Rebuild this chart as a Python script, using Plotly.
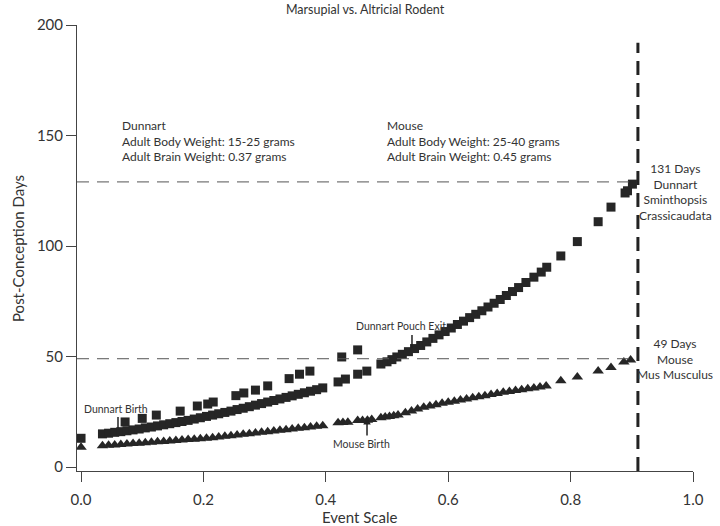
import plotly.graph_objects as go

# ---------------- data ----------------
dunnart_event = [0.0,
    0.035, 0.045, 0.055, 0.065, 0.075, 0.085, 0.095, 0.105, 0.115, 0.125,
    0.135, 0.145, 0.155, 0.165, 0.175, 0.185, 0.195, 0.205, 0.215, 0.225,
    0.235, 0.245, 0.255, 0.265, 0.275, 0.285, 0.295, 0.305, 0.315, 0.325,
    0.335, 0.345, 0.355, 0.365, 0.375, 0.385, 0.395,
    0.42, 0.432, 0.452, 0.467, 0.49, 0.5, 0.508, 0.516, 0.525, 0.535,
    0.545, 0.555, 0.565, 0.575, 0.585, 0.595, 0.605, 0.615, 0.625, 0.635,
    0.645, 0.655, 0.665, 0.675, 0.685, 0.695, 0.705, 0.715, 0.727, 0.74,
    0.752, 0.761, 0.784, 0.811, 0.845, 0.866, 0.889, 0.893, 0.901,
    0.072, 0.1, 0.123, 0.162, 0.19, 0.207, 0.216, 0.253, 0.266, 0.285,
    0.305, 0.34, 0.357, 0.374, 0.426, 0.452]
dunnart_days = [13.0,
    15.0, 15.3, 15.7, 16.0, 16.4, 16.8, 17.2, 17.7, 18.1, 18.6,
    19.1, 19.6, 20.1, 20.6, 21.1, 21.7, 22.3, 22.9, 23.5, 24.1,
    24.7, 25.3, 26.0, 26.6, 27.3, 28.0, 28.7, 29.4, 30.1, 30.8,
    31.5, 32.2, 32.9, 33.6, 34.3, 35.0, 35.8,
    38.5, 39.8, 42.0, 43.4, 46.6, 47.6, 48.6, 49.8, 51.0, 52.2,
    53.6, 55.0, 56.6, 58.2, 59.8, 61.3, 62.9, 64.5, 66.0, 67.6,
    69.1, 70.7, 72.4, 74.1, 75.8, 77.6, 79.4, 81.2, 83.5, 85.9,
    88.2, 90.4, 95.5, 102.0, 111.0, 117.6, 124.0, 125.0, 128.0,
    20.4, 22.0, 23.5, 25.3, 27.6, 28.5, 29.4, 32.3, 33.5, 34.8,
    36.7, 40.0, 42.0, 43.4, 49.8, 53.0]

mouse_event = [0.0,
    0.035, 0.045, 0.055, 0.065, 0.075, 0.085, 0.095, 0.105, 0.115, 0.125,
    0.135, 0.145, 0.155, 0.165, 0.175, 0.185, 0.195, 0.205, 0.215, 0.225,
    0.235, 0.245, 0.255, 0.265, 0.275, 0.285, 0.295, 0.305, 0.315, 0.325,
    0.335, 0.345, 0.355, 0.365, 0.375, 0.385, 0.395,
    0.42, 0.428, 0.436, 0.452, 0.46, 0.468, 0.475, 0.49, 0.497, 0.504,
    0.511, 0.518, 0.53, 0.54, 0.55, 0.56, 0.57, 0.58, 0.59, 0.6,
    0.61, 0.62, 0.63, 0.64, 0.65, 0.66, 0.67, 0.68, 0.69, 0.7,
    0.71, 0.72, 0.73, 0.74, 0.75, 0.76, 0.784, 0.811, 0.845, 0.866,
    0.887, 0.898]
mouse_days = [9.0,
    9.6, 9.8, 10.0, 10.2, 10.4, 10.6, 10.8, 11.0, 11.2, 11.4,
    11.6, 11.8, 12.0, 12.2, 12.4, 12.6, 12.8, 13.0, 13.3, 13.6,
    13.9, 14.2, 14.5, 14.8, 15.1, 15.4, 15.7, 16.0, 16.3, 16.6,
    16.9, 17.2, 17.5, 17.8, 18.1, 18.4, 18.7,
    20.0, 20.1, 20.3, 21.0, 21.1, 21.2, 21.5, 22.3, 22.6, 22.9,
    23.2, 23.5, 24.6, 25.4, 26.2, 27.0, 27.6, 28.2, 28.8, 29.3,
    29.8, 30.3, 30.8, 31.3, 31.8, 32.3, 32.8, 33.3, 33.8, 34.2,
    34.6, 35.0, 35.4, 35.8, 36.2, 36.7, 39.0, 40.7, 43.4, 45.0,
    47.5, 48.4]

x_ticks = [0.0, 0.2, 0.4, 0.6, 0.8, 1.0]
y_ticks = [0, 50, 100, 150, 200]

max_brain_event = 0.91
dunnart_end_days = 129
mouse_end_days = 49

FONT = "Lato"
TXT = "#333333"
MARK = "#262626"

fig = go.Figure()
fig.add_trace(go.Scatter(x=dunnart_event, y=dunnart_days, mode="markers",
                         marker=dict(symbol="square", size=9, color=MARK),
                         name="Dunnart", hoverinfo="skip"))
fig.add_trace(go.Scatter(x=mouse_event, y=mouse_days, mode="markers",
                         marker=dict(symbol="triangle-up", size=10, color=MARK),
                         name="Mouse", hoverinfo="skip"))

# reference lines
for yv in (dunnart_end_days, mouse_end_days):
    fig.add_shape(type="line", xref="x", yref="y", x0=-0.0066, x1=max_brain_event,
                  y0=yv, y1=yv, line=dict(color="#555555", width=1, dash="12px,8px"))
fig.add_shape(type="line", xref="x", yref="y", x0=max_brain_event, x1=max_brain_event,
              y0=-1.8, y1=192, line=dict(color="#222222", width=3, dash="14px,8px"))

# small marker ticks
fig.add_shape(type="line", xref="x", yref="y", x0=0.0604, x1=0.0604, y0=17.7, y1=22.6,
              line=dict(color="#222222", width=1.5))
fig.add_shape(type="line", xref="x", yref="y", x0=0.5408, x1=0.5408, y0=53.9, y1=59.7,
              line=dict(color="#222222", width=1.5))

ann = []
def text(x, y, s, size=12, xanchor="left", yanchor="top", align="left", xref="x", yref="y", angle=0):
    ann.append(dict(x=x, y=y, xref=xref, yref=yref, text=s, showarrow=False,
                    xanchor=xanchor, yanchor=yanchor, align=align, textangle=angle,
                    font=dict(family=FONT, size=size, color=TXT)))

text(0.0637, 158.8, "Dunnart<br>Adult Body Weight: 15-25 grams<br>Adult Brain Weight: 0.37 grams")
text(0.4967, 158.8, "Mouse<br>Adult Body Weight: 25-40 grams<br>Adult Brain Weight: 0.45 grams")
text(0.9706, 139.4, "131 Days<br>Dunnart<br>Sminthopsis<br>Crassicaudata", xanchor="center", align="center")
text(0.9706, 60.2, "49 Days<br>Mouse<br>Mus Musculus", xanchor="center", align="center")
text(0.523, 63.8, "Dunnart Pouch Exit", size=10.5, xanchor="center", yanchor="middle")
text(0.0571, 26.3, "Dunnart Birth", size=10.5, xanchor="center", yanchor="middle")
text(0.459, 10.4, "Mouse Birth", size=10.5, xanchor="center", yanchor="middle")
text(0.851, -4.0, "80% Maximum<br>Brain Weight:", size=11.5)
text(0.459, -0.103, "Event Scale", size=15, xanchor="center", yanchor="middle", xref="paper", yref="paper")
text(-0.0958, 0.5, "Post-Conception Days", size=15, xanchor="center", yanchor="middle",
     xref="paper", yref="paper", angle=-90)

ann.append(dict(x=0.4673, y=22.6, ax=0.4673, ay=13.6, xref="x", yref="y", axref="x", ayref="y",
                text="", showarrow=True, arrowhead=2, arrowsize=1, arrowwidth=1.5,
                arrowcolor="#222222", standoff=0, startstandoff=0))

fig.update_layout(
    width=720, height=526,
    margin=dict(l=77, r=27, t=25, b=55),
    paper_bgcolor="white", plot_bgcolor="white",
    showlegend=False, hovermode=False,
    title=dict(text="Marsupial vs. Altricial Rodent", x=0.507, xanchor="center",
               y=1 - 10 / 526, yanchor="middle", yref="container",
               font=dict(family=FONT, size=12.5, color=TXT)),
    annotations=ann,
    font=dict(family=FONT, color=TXT),
)
fig.update_xaxes(range=[-0.0066, 1.0], tickvals=x_ticks, tickformat=".1f",
                 showgrid=False, zeroline=False, showline=True, linecolor="#444444", linewidth=1,
                 ticks="outside", ticklen=10, tickcolor="#444444", tickwidth=1,
                 ticklabelstandoff=5,
                 tickfont=dict(family=FONT, size=15, color=TXT))
fig.update_yaxes(range=[-1.8, 200], tickvals=y_ticks,
                 showgrid=False, zeroline=False, showline=True, linecolor="#444444", linewidth=1,
                 ticks="outside", ticklen=10, tickcolor="#444444", tickwidth=1,
                 tickfont=dict(family=FONT, size=15, color=TXT))

fig.write_html("out.html", config={"displayModeBar": False},
               post_script="document.body.style.margin='0';")
